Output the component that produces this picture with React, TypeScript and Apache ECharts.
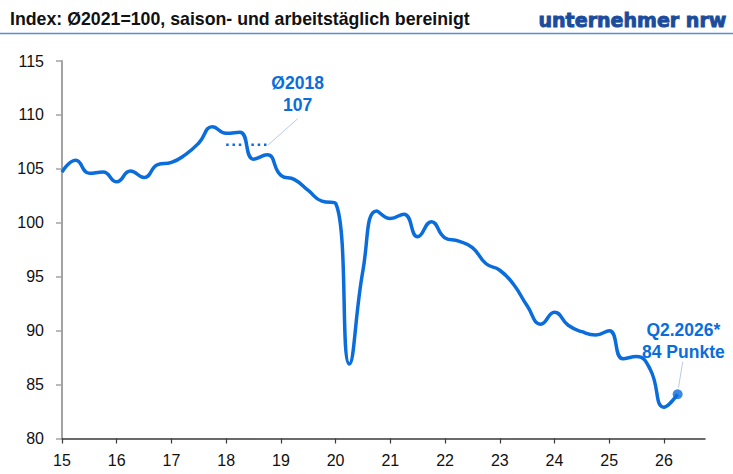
import React, { useEffect, useRef } from "react";
import * as echarts from "echarts";

// ---------- data ----------
const years = ["15", "16", "17", "18", "19", "20", "21", "22", "23", "24", "25", "26"];
const quarterNames = ["Q1", "Q2", "Q3", "Q4"];
const quarters: string[] = [];
years.forEach((y) => quarterNames.forEach((q) => quarters.push(`${q}.20${y}`)));

// Index values per quarter, Q1.2015 .. Q2.2026
const indexValues = [
  104.7, 105.8, 104.6, 104.7,
  103.8, 104.8, 104.2, 105.4,
  105.6, 106.3, 107.4, 108.9,
  108.3, 108.4, 105.9, 106.3,
  104.4, 104.0, 103.0, 102.0,
  101.8, 86.9, 95.6, 101.1,
  100.4, 100.8, 98.7, 100.1,
  98.6, 98.3, 97.7, 96.2,
  95.6, 94.3, 92.3, 90.6,
  91.7, 90.5, 89.9, 89.6,
  90.0, 87.4, 87.6, 86.4,
  82.9, 84.1,
];

const yTicks = { min: 80, max: 115, step: 5 };
const avgYear = "2018";
const avgLabelValue = "107";
const lastLabel = ["Q2.2026*", "84 Punkte"];
const titleText = "Index: Ø2021=100, saison- und arbeitstäglich bereinigt";
const logoText = "unternehmer nrw";

// ---------- style ----------
const BLUE = "#0a6ddb";
const FONT = "'Liberation Sans', Arial, Helvetica, sans-serif";

function measure(text: string, font: string): number {
  const c = document.createElement("canvas").getContext("2d");
  if (!c) return text.length * 8;
  c.font = font;
  return c.measureText(text).width;
}

export default function App() {
  const ref = useRef<HTMLDivElement>(null);

  useEffect(() => {
    const el = ref.current;
    if (!el) return;
    const chart = echarts.init(el, null, { renderer: "svg" });

    const avgIdx = quarters.findIndex((q) => q.endsWith(avgYear));
    const avgVals = indexValues.slice(avgIdx, avgIdx + 4);
    const avg = avgVals.reduce((a, b) => a + b, 0) / avgVals.length;
    const lastIdx = indexValues.length - 1;

    chart.setOption({
      animation: false,
      grid: {
        left: 62,
        right: 28,
        top: 61,
        bottom: 35.5,
        containLabel: false,
        outerBoundsMode: "none",
      },
      xAxis: {
        type: "category",
        data: quarters,
        boundaryGap: false,
        axisLine: { onZero: false, lineStyle: { color: "#3a3a3a", width: 1.5 } },
        axisTick: { interval: 3, length: 5, lineStyle: { color: "#3a3a3a", width: 1.2 } },
        axisLabel: {
          interval: 3,
          margin: 14,
          fontSize: 16,
          color: "#111",
          fontFamily: FONT,
          formatter: (v: string) => v.slice(-2),
        },
        splitLine: { show: false },
      },
      yAxis: {
        type: "value",
        min: yTicks.min,
        max: yTicks.max,
        interval: yTicks.step,
        axisLine: { show: true, lineStyle: { color: "#a3a3a3", width: 2 } },
        axisTick: { show: true, length: 6, lineStyle: { color: "#a3a3a3", width: 1.5 } },
        axisLabel: { margin: 18, fontSize: 16, color: "#111", fontFamily: FONT },
        splitLine: { show: false },
      },
      series: [
        {
          type: "line",
          data: indexValues,
          smooth: 0.5,
          symbol: "none",
          lineStyle: { color: BLUE, width: 3.5 },
          z: 3,
        },
        {
          type: "line",
          data: [
            [quarters[avgIdx], avg],
            [quarters[avgIdx + 3], avg],
          ],
          symbol: "none",
          lineStyle: { color: BLUE, width: 2.5, type: [2.5, 3.8] },
          z: 2,
        },
        {
          type: "scatter",
          data: [[quarters[lastIdx], indexValues[lastIdx]]],
          symbol: "circle",
          symbolSize: 10,
          itemStyle: { color: BLUE },
          z: 4,
        },
      ],
    });

    const n = quarters.length - 1;
    const px = (idx: number, v: number) => {
      const a = chart.convertToPixel({ gridIndex: 0 }, [0, v]) as number[];
      const b = chart.convertToPixel({ gridIndex: 0 }, [n, v]) as number[];
      return [a[0] + (idx * (b[0] - a[0])) / n, a[1]];
    };

    const titleFont = `bold 17.5px ${FONT}`;
    const titleScale = 460 / measure(titleText, titleFont);
    const logoFont = `bold 19px 'DejaVu Sans', sans-serif`;
    const logoScale = 188 / measure(logoText, logoFont);

    const avgEnd = px(avgIdx + 3 - 0.22, avg);
    const avgLead = px(avgIdx + 5.25, avg + 2.45);
    const avgT1 = px(avgIdx + 5.22, 112.95);
    const avgT2 = px(avgIdx + 5.22, 110.9);
    const lastLeadA = px(lastIdx + 0.37, 87.1);
    const lastLeadB = px(lastIdx + 0.06, 84.7);
    const lastT1 = px(lastIdx + 0.42, 90.05);
    const lastT2 = px(lastIdx + 0.42, 88.05);

    const annText = (p: number[], text: string) => ({
      type: "text",
      x: p[0],
      y: p[1],
      style: {
        text,
        font: `bold 17.5px ${FONT}`,
        fill: BLUE,
        align: "center",
        verticalAlign: "middle",
        textAlign: "center",
        textVerticalAlign: "middle",
      },
      z: 10,
    });

    chart.setOption({
      graphic: [
        {
          type: "text",
          x: 10,
          y: 19.5,
          scaleX: titleScale,
          style: {
            text: titleText,
            font: titleFont,
            fill: "#111",
            align: "left",
            verticalAlign: "middle",
            textAlign: "left",
            textVerticalAlign: "middle",
          },
        },
        {
          type: "text",
          x: 538.5,
          y: 20,
          scaleX: logoScale,
          style: {
            text: logoText,
            font: logoFont,
            fill: "#1b4c9c",
            stroke: "#1b4c9c",
            lineWidth: 0.9,
            align: "left",
            verticalAlign: "middle",
            textAlign: "left",
            textVerticalAlign: "middle",
          },
        },
        {
          type: "line",
          shape: { x1: 0, y1: 33.5, x2: 733, y2: 33.5 },
          style: { stroke: "#5a8bd6", lineWidth: 1.5 },
        },
        {
          type: "line",
          shape: { x1: avgEnd[0] + 4, y1: avgEnd[1], x2: avgLead[0], y2: avgLead[1] },
          style: { stroke: "#b8cbe8", lineWidth: 1 },
        },
        {
          type: "line",
          shape: { x1: lastLeadA[0], y1: lastLeadA[1], x2: lastLeadB[0], y2: lastLeadB[1] },
          style: { stroke: "#b8cbe8", lineWidth: 1 },
        },
        annText(avgT1, `Ø${avgYear}`),
        annText(avgT2, avgLabelValue),
        annText(lastT1, lastLabel[0]),
        annText(lastT2, lastLabel[1]),
      ],
    });

    return () => chart.dispose();
  }, []);

  return (
    <div
      ref={ref}
      style={{ position: "fixed", left: 0, top: 0, width: 733, height: 474, background: "#fff" }}
    />
  );
}
